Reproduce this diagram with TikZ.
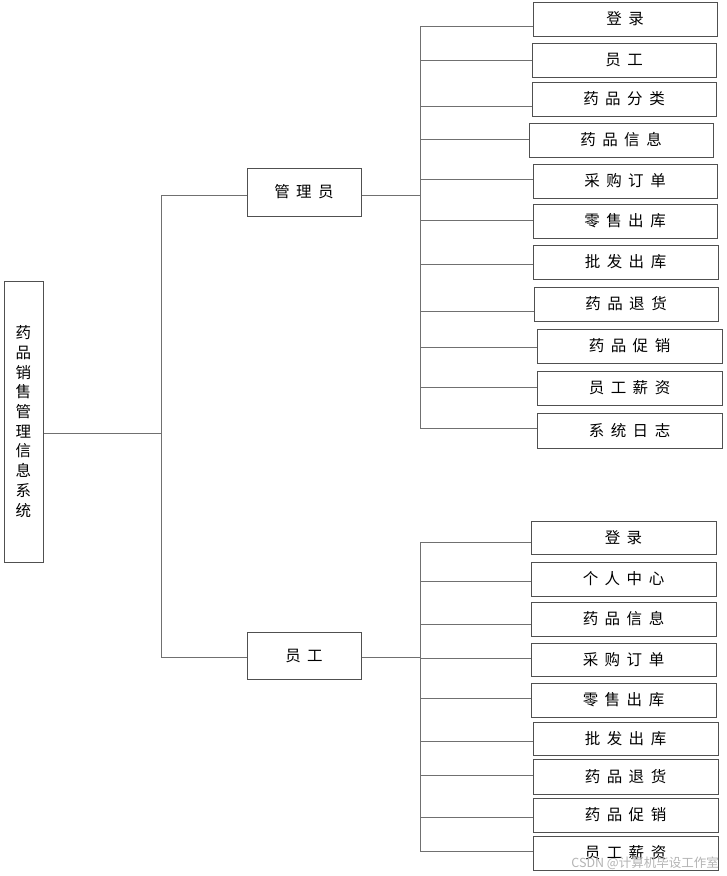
\documentclass[tikz,border=0pt]{standalone}
\usepackage{fontspec}
\newfontfamily\cjk{Noto Sans CJK SC}
\definecolor{boxline}{HTML}{505050}
\definecolor{conline}{HTML}{707070}
\definecolor{wmark}{HTML}{B4B4B4}
\newlength\spgap
\setlength\spgap{6.5pt}
\newcommand\sptext[1]{\sptA#1\relax}
\def\sptA#1#2{#1\ifx\relax#2\else\kern\spgap\expandafter\sptA\expandafter#2\fi}
\tikzset{
  box/.style={draw=boxline, line width=1pt, fill=white, inner sep=0pt,
    font=\cjk\fontsize{15.5}{18}\selectfont, text=black},
  con/.style={draw=conline, line width=1pt},
}
% \bx{name}{x1}{y1}{x2}{y2}{text}
\newcommand\bx[6]{\node[box, minimum width={(#4-#2)*1pt}, minimum height={(#5-#3)*1pt}]
  (#1) at ({(#2+#4)/2},{(#3+#5)/2}) {\sptext{#6}};}
\begin{document}
\begin{tikzpicture}[x=1pt,y=-1pt]
\useasboundingbox[fill=white] (0,0) rectangle (727,876);

% root
\node[box, minimum width=39pt, minimum height=281pt, align=center,
  font=\cjk\fontsize{15.5}{19.7}\selectfont] (root) at (23.5,421.5)
  {药\\品\\销\\售\\管\\理\\信\\息\\系\\统};

% second level
\bx{adm}{247}{168}{361}{216}{管理员}
\bx{stf}{247}{632}{361}{679}{员工}

% admin children
\bx{a1}{533}{2}{717}{36}{登录}
\bx{a2}{532}{43}{716}{77}{员工}
\bx{a3}{532}{82}{716}{116}{药品分类}
\bx{a4}{529}{123}{713}{157}{药品信息}
\bx{a5}{533}{164}{717}{198}{采购订单}
\bx{a6}{533}{204}{717}{238}{零售出库}
\bx{a7}{533}{245}{718}{279}{批发出库}
\bx{a8}{534}{287}{718}{321}{药品退货}
\bx{a9}{537}{329}{722}{363}{药品促销}
\bx{a10}{537}{371}{722}{405}{员工薪资}
\bx{a11}{537}{413}{722}{448}{系统日志}

% staff children
\bx{s1}{531}{521}{716}{554}{登录}
\bx{s2}{531}{562}{716}{596}{个人中心}
\bx{s3}{531}{602}{716}{636}{药品信息}
\bx{s4}{531}{643}{716}{676}{采购订单}
\bx{s5}{531}{683}{716}{717}{零售出库}
\bx{s6}{533}{722}{718}{755}{批发出库}
\bx{s7}{533}{759}{718}{794}{药品退货}
\bx{s8}{533}{798}{718}{832}{药品促销}
\bx{s9}{533}{836}{718}{870}{员工薪资}

% trunk from root
\coordinate (rt) at (161,433);
\coordinate (tTop) at (161,195);
\coordinate (tBot) at (161,657);
\draw[con] (root.east |- rt) -- (rt);
\draw[con] (tTop) -- (tBot);
\draw[con] (tTop) -- (tTop -| adm.west);
\draw[con] (tBot) -- (tBot -| stf.west);

% admin branch
\coordinate (ah) at (420,195);
\draw[con] (adm.east |- ah) -- (ah);
\coordinate (aTop) at (420,26);
\coordinate (aBot) at (420,428);
\draw[con] (aTop) -- (aBot);
\foreach \n/\yy in {a1/26,a2/60,a3/106,a4/139,a5/179,a6/220,a7/264,a8/311,a9/347,a10/387,a11/428}{
  \coordinate (j\n) at (420,\yy);
  \draw[con] (j\n) -- (j\n -| \n.west);
}

% staff branch
\coordinate (sh) at (420,657);
\draw[con] (stf.east |- sh) -- (sh);
\coordinate (sTop) at (420,542);
\coordinate (sBot) at (420,851);
\draw[con] (sTop) -- (sBot);
\foreach \n/\yy in {s1/542,s2/581,s3/624,s4/658,s5/698,s6/741,s7/775,s8/817,s9/851}{
  \coordinate (j\n) at (420,\yy);
  \draw[con] (j\n) -- (j\n -| \n.west);
}

% watermark
\node[anchor=east, inner sep=0pt, text=wmark, font=\cjk\fontsize{12.5}{14}\selectfont]
  (wm) at (719,863) {CSDN @计算机毕设工作室};
\end{tikzpicture}
\end{document}
